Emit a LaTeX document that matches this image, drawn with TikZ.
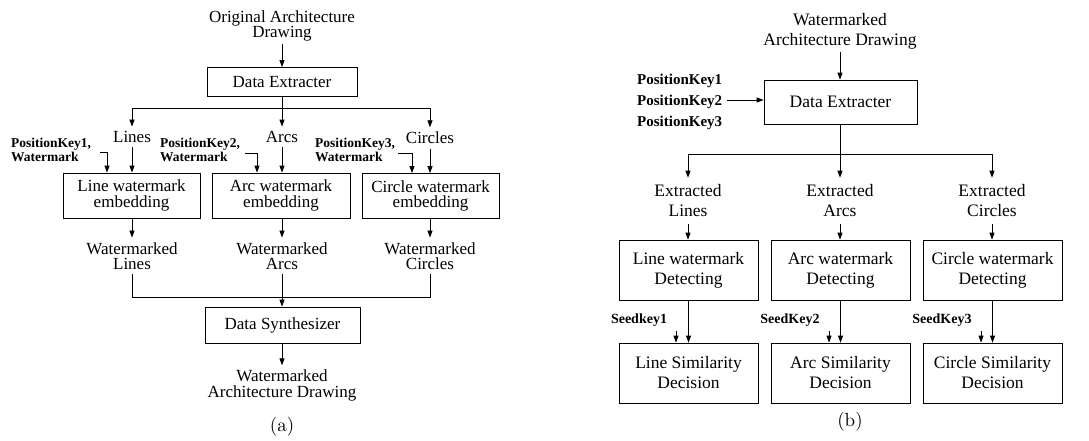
\documentclass[tikz,border=0pt]{standalone}
\usepackage{fontspec}
\setmainfont{Liberation Serif}
\newfontfamily\lmfont{lmroman10-regular.otf}
\usetikzlibrary{arrows.meta}
\tikzset{
  ln/.style={line width=0.8pt},
  arr/.style={ln,-{Triangle[length=7pt,width=5pt]}},
  boxA/.style={draw,ln,inner sep=0pt,align=center,font=\fontsize{17}{15.5}\selectfont},
  boxB/.style={draw,ln,inner sep=0pt,align=center,font=\fontsize{17.5}{20}\selectfont,minimum width=139pt,minimum height=60pt},
  txtA/.style={align=center,inner sep=4.5pt,font=\fontsize{17}{15.5}\selectfont},
  txtB/.style={align=center,inner sep=7pt,font=\fontsize{17.5}{20}\selectfont},
  keyA/.style={align=left,inner sep=0pt,anchor=west,font=\fontsize{13.5}{11.5}\selectfont\bfseries},
  keyB/.style={align=left,inner sep=0pt,anchor=west,font=\fontsize{15}{21}\selectfont\bfseries},
  seedB/.style={inner sep=0pt,font=\fontsize{14}{16}\selectfont\bfseries},
  captxt/.style={inner sep=0pt,font=\fontsize{19}{20}\lmfont},
}
\begin{document}
\begin{tikzpicture}[x=1pt,y=-1pt]
\useasboundingbox (0,0) rectangle (1089,440);
% ---------------- (a) ----------------
\node[txtA,inner sep=2pt] (oad) at (282,26) {Original Architecture\\Drawing};
\node[boxA,minimum width=150pt,minimum height=29pt] (deA) at (282,82) {Data Extracter};
\draw[arr] (oad.south) -- (deA.north);
\coordinate (bA) at (282,108);
\coordinate (bLA) at (132,108);
\coordinate (bRA) at (430,108);
\draw[ln] (deA.south) -- (bA);
\draw[ln] (bLA) -- (bRA);
\node[txtA] (linesA) at (132,137) {Lines};
\node[txtA] (arcsA) at (282,137) {Arcs};
\node[txtA] (circA) at (430,138) {Circles};
\draw[arr] (bLA) -- (linesA.north);
\draw[arr] (bA) -- (arcsA.north);
\draw[arr] (bRA) -- (circA.north);
\node[boxA,minimum width=137pt,minimum height=45pt] (lwA) at (131.5,195.5) {Line watermark\\embedding};
\node[boxA,minimum width=138pt,minimum height=45pt] (awA) at (281,195.5) {Arc watermark\\embedding};
\node[boxA,minimum width=137pt,minimum height=45pt] (cwA) at (430.5,196) {Circle watermark\\embedding};
\draw[arr] (linesA.south) -- (linesA.south |- lwA.north);
\draw[arr] (arcsA.south) -- (arcsA.south |- awA.north);
\draw[arr] (circA.south) -- (circA.south |- cwA.north);
\node[keyA] (pk1) at (11,150) {PositionKey1,\\Watermark};
\node[keyA] (pk2) at (160,150) {PositionKey2,\\Watermark};
\node[keyA] (pk3) at (315,150) {PositionKey3,\\Watermark};
\coordinate (k1) at (100,152);
\coordinate (k2) at (245,153);
\coordinate (k3) at (398,153);
\draw[arr] (k1) -| ([xshift=-24.5pt]lwA.north);
\draw[arr] (k2) -| ([xshift=-24pt]awA.north);
\draw[arr] (k3) -| ([xshift=-18.5pt]cwA.north);
\node[txtA] (wlA) at (132,256) {Watermarked\\Lines};
\node[txtA] (waA) at (282,256) {Watermarked\\Arcs};
\node[txtA] (wcA) at (430,256) {Watermarked\\Circles};
\draw[arr] (wlA.north |- lwA.south) -- (wlA.north);
\draw[arr] (waA.north |- awA.south) -- (waA.north);
\draw[arr] (wcA.north |- cwA.south) -- (wcA.north);
\node[boxA,minimum width=155pt,minimum height=36pt] (dsA) at (282.5,325) {Data Synthesizer};
\coordinate (mA) at (282,297);
\draw[ln] (wlA.south) |- (mA);
\draw[ln] (wcA.south) |- (mA);
\draw[arr] (waA.south) -- (waA.south |- dsA.north);
\node[txtA] (wadA) at (282,385.5) {Watermarked\\Architecture Drawing};
\draw[arr] (wadA.north |- dsA.south) -- (wadA.north);
\node[captxt] (capA) at (282,427) {(a)};
% ---------------- (b) ----------------
\node[txtB,inner sep=3pt] (wadB) at (840,31) {Watermarked\\Architecture Drawing};
\node[draw,ln,inner sep=0pt,font=\fontsize{17.5}{20}\selectfont,minimum width=153pt,minimum height=44pt] (deB) at (840.5,102) {Data Extracter};
\draw[arr] (wadB.south) -- (wadB.south |- deB.north);
\node[keyB] (pkB) at (637,102) {PositionKey1\\PositionKey2\\PositionKey3};
\coordinate (kB) at (727,100);
\draw[arr] (kB) -- (kB -| deB.west);
\coordinate (bB) at (840,154);
\coordinate (bLB) at (688,154);
\coordinate (bRB) at (992,154);
\draw[ln] (deB.south) -- (deB.south |- bB);
\draw[ln] (bLB) -- (bRB);
\node[txtB] (exL) at (688,201) {Extracted\\Lines};
\node[txtB] (exA) at (840,201) {Extracted\\Arcs};
\node[txtB] (exC) at (992,201) {Extracted\\Circles};
\draw[arr] (bLB) -- (exL.north);
\draw[arr] (bB) -- (exA.north);
\draw[arr] (bRB) -- (exC.north);
\node[boxB] (lwB) at (688.5,270) {Line watermark\\Detecting};
\node[boxB] (awB) at (840.5,270) {Arc watermark\\Detecting};
\node[boxB] (cwB) at (992.5,270) {Circle watermark\\Detecting};
\draw[arr] (exL.south) -- (exL.south |- lwB.north);
\draw[arr] (exA.south) -- (exA.south |- awB.north);
\draw[arr] (exC.south) -- (exC.south |- cwB.north);
\node[boxB] (lsB) at (688.5,373) {Line Similarity\\Decision};
\node[boxB] (asB) at (840.5,373) {Arc Similarity\\Decision};
\node[boxB] (csB) at (992.5,373) {Circle Similarity\\Decision};
\draw[arr] (lwB.south) -- (lsB.north);
\draw[arr] (awB.south) -- (asB.north);
\draw[arr] (cwB.south) -- (csB.north);
\node[seedB] (sk1) at (639,320) {Seedkey1};
\node[seedB] (sk2) at (790,320) {SeedKey2};
\node[seedB] (sk3) at (942,320) {SeedKey3};
\coordinate (s1) at (676,331);
\coordinate (s2) at (829,331);
\coordinate (s3) at (981,331);
\draw[arr] (s1) -- (s1 |- lsB.north);
\draw[arr] (s2) -- (s2 |- asB.north);
\draw[arr] (s3) -- (s3 |- csB.north);
\node[captxt] (capB) at (850,422) {(b)};
\end{tikzpicture}
\end{document}
